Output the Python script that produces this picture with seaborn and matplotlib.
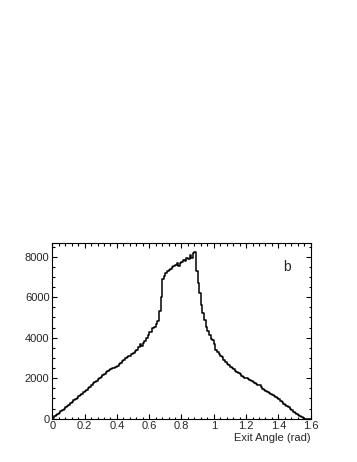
import numpy as np
import pandas as pd
import seaborn as sns
import matplotlib.pyplot as plt
from matplotlib.ticker import MultipleLocator

# histogram of exit angle, 0.01 rad bins from 0 to 1.6
bin_lo = 0.0
bin_hi = 1.6
bin_width = 0.01
counts = [
    40, 110, 170, 240, 300, 370, 440, 500, 570, 640,            # 0.00-0.10
    690, 760, 840, 900, 960, 1030, 1100, 1160, 1240, 1300,      # 0.10-0.20
    1380, 1440, 1510, 1580, 1660, 1740, 1800, 1880, 1950, 2020,  # 0.20-0.30
    2080, 2150, 2230, 2300, 2360, 2420, 2460, 2480, 2500, 2540,  # 0.30-0.40
    2610, 2680, 2750, 2830, 2900, 2980, 3040, 3080, 3120, 3170,  # 0.40-0.50
    3250, 3320, 3400, 3520, 3700, 3600, 3720, 3850, 4000, 4150,  # 0.50-0.60
    4280, 4300, 4480, 4550, 4700, 4800, 5300, 6000, 6900, 7050,  # 0.60-0.70
    7200, 7280, 7350, 7400, 7500, 7550, 7600, 7680, 7550, 7700,  # 0.70-0.80
    7750, 7850, 7780, 7950, 7900, 8100, 7950, 8180, 8230, 7300,  # 0.80-0.90
    6700, 6200, 5600, 5200, 4850, 4550, 4350, 4150, 3950, 3880,  # 0.90-1.00
    3700, 3400, 3300, 3200, 3100, 3050, 2900, 2780, 2720, 2650,  # 1.00-1.10
    2560, 2520, 2450, 2380, 2300, 2250, 2200, 2130, 2080, 2030,  # 1.10-1.20
    1990, 1950, 1910, 1870, 1820, 1760, 1720, 1680, 1640, 1560,  # 1.20-1.30
    1450, 1400, 1350, 1300, 1260, 1200, 1150, 1100, 1050, 1000,  # 1.30-1.40
    950, 880, 820, 750, 700, 630, 580, 500, 420, 340,            # 1.40-1.50
    300, 240, 170, 110, 60, 20, 5, 0, 0, 0,                      # 1.50-1.60
]

centers = bin_lo + bin_width * (np.arange(len(counts)) + 0.5)
df = pd.DataFrame({"angle": centers, "n": counts})

sns.set_style("ticks")
plt.rcParams["font.family"] = ["Liberation Sans", "DejaVu Sans"]

fig = plt.figure(figsize=(3.57, 4.62), dpi=100)
ax = fig.add_axes([0.1465, 0.0937, 0.7238, 0.3797])

sns.histplot(data=df, x="angle", weights="n", binwidth=bin_width,
             binrange=(bin_lo, bin_hi), element="step",
             fill=False, color="black", linewidth=1.1, ax=ax)

ax.set_xlim(bin_lo, bin_hi)
ax.set_ylim(0, 8660)
ax.xaxis.set_minor_locator(MultipleLocator(0.04))
ax.yaxis.set_major_locator(MultipleLocator(2000))
ax.yaxis.set_minor_locator(MultipleLocator(500))
ax.set_xticks([0, 0.2, 0.4, 0.6, 0.8, 1.0, 1.2, 1.4, 1.6])
ax.set_xticklabels(["0", "0.2", "0.4", "0.6", "0.8", "1", "1.2", "1.4", "1.6"])

ax.tick_params(which="both", direction="in", top=True, right=True,
               labelsize=8, width=0.8, color="black", pad=2)
ax.tick_params(which="major", length=3.6)
ax.tick_params(which="minor", length=1.8)
for s in ax.spines.values():
    s.set_linewidth(0.8)
    s.set_color("black")

ax.set_ylabel("")
ax.set_xlabel("Exit Angle (rad)", loc="right", fontsize=8, labelpad=1)
ax.text(0.907, 0.867, "b", transform=ax.transAxes, fontsize=10,
        ha="center", va="center")

plt.savefig("out.png", dpi=100)
